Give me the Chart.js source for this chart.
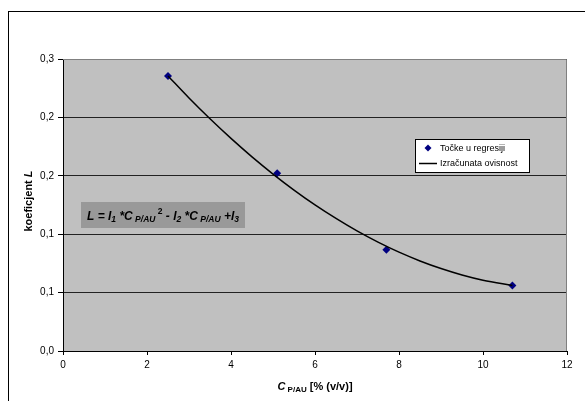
<!DOCTYPE html>
<html>
<head>
<meta charset="utf-8">
<script src="https://cdn.jsdelivr.net/npm/chart.js@4/dist/chart.umd.min.js"></script>
<style>
html,body{margin:0;padding:0;background:#fff;}
canvas{display:block;}
</style>
</head>
<body>
<canvas id="c" width="585" height="401"></canvas>
<script>
const xTickLabels = ['0','2','4','6','8','10','12'];
const yTickLabels = ['0,0','0,1','0,1','0,2','0,2','0,3'];
const seriesNames = ['Točke u regresiji','Izračunata ovisnost'];
const pointsC = [2.5, 5.1, 7.7, 10.7];
const pointsL = [0.2355, 0.1522, 0.0866, 0.0561];
const curveC = [2.5, 3, 3.5, 4, 4.5, 5, 5.5, 6, 6.5, 7, 7.5, 8, 8.5, 9, 9.5, 10, 10.7];
const curveL = [0.2355, 0.2166, 0.1988, 0.1820, 0.1662, 0.1515, 0.1378, 0.1251, 0.1135, 0.1028, 0.0932, 0.0846, 0.0771, 0.0706, 0.0651, 0.0606, 0.0561];
const xTitle = ['C', 'P/AU', '[% (v/v)]'];
const yTitle = ['koeficjent ', 'L'];

const FONT = "'Liberation Sans', Arial, sans-serif";

function drawRich(ctx, x, y, parts) {
  let cx = x;
  for (const p of parts) {
    ctx.font = (p[3] ? 'italic ' : '') + (p[2] ? 'bold ' : '') + p[1] + 'px ' + FONT;
    ctx.fillText(p[0], cx, y + (p[4] || 0));
    cx += ctx.measureText(p[0]).width;
  }
  return cx - x;
}
function measureRich(ctx, parts) {
  let w = 0;
  for (const p of parts) {
    ctx.font = (p[3] ? 'italic ' : '') + (p[2] ? 'bold ' : '') + p[1] + 'px ' + FONT;
    w += ctx.measureText(p[0]).width;
  }
  return w;
}

const decor = {
  id: 'decor',
  beforeDraw(chart) {
    const ctx = chart.ctx, a = chart.chartArea;
    ctx.save();
    ctx.fillStyle = '#C0C0C0';
    ctx.fillRect(a.left, a.top, a.right - a.left, a.bottom - a.top);
    ctx.restore();
  },
  afterDraw(chart) {
    const ctx = chart.ctx, a = chart.chartArea;
    ctx.save();
    ctx.strokeStyle = '#000';
    ctx.lineWidth = 1;
    ctx.strokeRect(8.5, 11.5, 700, 500);
    ctx.strokeStyle = '#808080';
    ctx.beginPath();
    ctx.moveTo(a.left, a.top + 0.5);
    ctx.lineTo(a.right - 0.5, a.top + 0.5);
    ctx.lineTo(a.right - 0.5, a.bottom);
    ctx.stroke();

    // legend
    ctx.fillStyle = '#fff';
    ctx.fillRect(415.5, 139.5, 114, 33);
    ctx.strokeStyle = '#000';
    ctx.strokeRect(415.5, 139.5, 114, 33);
    ctx.fillStyle = '#000080';
    ctx.beginPath();
    ctx.moveTo(428, 144.5); ctx.lineTo(431.5, 148); ctx.lineTo(428, 151.5); ctx.lineTo(424.5, 148); ctx.closePath();
    ctx.fill();
    ctx.strokeStyle = '#000';
    ctx.lineWidth = 1.5;
    ctx.beginPath(); ctx.moveTo(419, 163.5); ctx.lineTo(437, 163.5); ctx.stroke();
    ctx.fillStyle = '#000';
    ctx.font = '9px ' + FONT;
    ctx.textBaseline = 'middle';
    ctx.fillText(seriesNames[0], 440, 148.5);
    ctx.fillText(seriesNames[1], 440, 163.5);

    // equation box
    ctx.fillStyle = '#999999';
    ctx.fillRect(81, 202, 164, 26);
    ctx.fillStyle = '#000';
    ctx.textBaseline = 'alphabetic';
    const eq = [
      ['L = l', 12, true, true], ['1', 8.5, true, true, 2], [' *C', 12, true, true],
      [' P/AU', 8.5, true, true, 2], [' 2', 8.5, true, false, -6], [' - l', 12, true, true],
      ['2', 8.5, true, true, 2], [' *C', 12, true, true], [' P/AU', 8.5, true, true, 2],
      [' +l', 12, true, true], ['3', 8.5, true, true, 2]
    ];
    const ew = measureRich(ctx, eq);
    drawRich(ctx, 163 - ew / 2, 220, eq);

    // x title
    const xt = [[xTitle[0], 11, true, true], [' ' + xTitle[1], 8, true, false, 2], [' ' + xTitle[2], 11, true, false]];
    const xw = measureRich(ctx, xt);
    drawRich(ctx, (a.left + a.right) / 2 - xw / 2, 390, xt);

    // y title
    ctx.translate(32, 201);
    ctx.rotate(-Math.PI / 2);
    const yt = [[yTitle[0], 11, true, false], [yTitle[1], 11, true, true]];
    const yw = measureRich(ctx, yt);
    drawRich(ctx, -yw / 2, 0, yt);
    ctx.restore();
  }
};

new Chart(document.getElementById('c'), {
  type: 'scatter',
  data: {
    datasets: [
      {
        label: seriesNames[0],
        data: pointsC.map((c, i) => ({x: c, y: pointsL[i]})),
        pointStyle: 'rectRot',
        pointRadius: 4,
        backgroundColor: '#000080',
        borderColor: '#000080',
        borderWidth: 0,
        showLine: false,
        order: 2
      },
      {
        label: seriesNames[1],
        data: curveC.map((c, i) => ({x: c, y: curveL[i]})),
        showLine: true,
        pointRadius: 0,
        borderColor: '#000',
        borderWidth: 1.5,
        cubicInterpolationMode: 'monotone',
        order: 1
      }
    ]
  },
  options: {
    responsive: false,
    animation: false,
    devicePixelRatio: 1,
    layout: {padding: {left: 0, top: 59, right: 18, bottom: 0}},
    plugins: {legend: {display: false}, tooltip: {enabled: false}, title: {display: false}},
    scales: {
      x: {
        type: 'linear', min: 0, max: 12,
        afterFit: s => { s.height = 50; },
        ticks: {stepSize: 2, color: '#000', font: {family: FONT, size: 10}, padding: 4,
          callback: (v, i) => xTickLabels[i]},
        grid: {drawOnChartArea: false, drawTicks: true, tickLength: 4, tickColor: '#000'},
        border: {color: '#000', width: 1}
      },
      y: {
        min: 0, max: 0.25,
        afterFit: s => { s.width = 63; },
        ticks: {stepSize: 0.05, color: '#000', font: {family: FONT, size: 10}, padding: 4,
          callback: (v, i) => yTickLabels[i]},
        grid: {color: '#222', lineWidth: 1, drawTicks: true, tickLength: 5, tickColor: '#000'},
        border: {color: '#000', width: 1}
      }
    }
  },
  plugins: [decor]
});
</script>
</body>
</html>
